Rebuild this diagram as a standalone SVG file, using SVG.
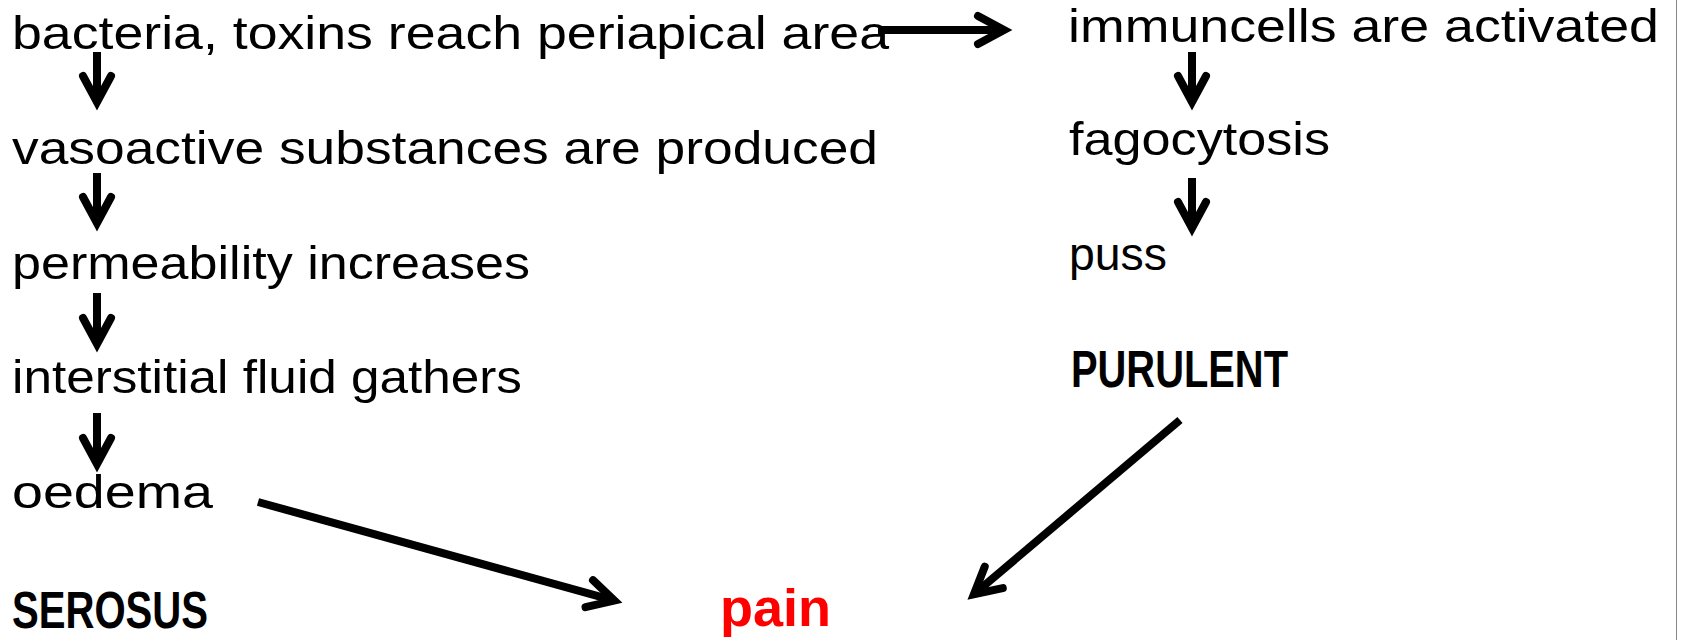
<svg xmlns="http://www.w3.org/2000/svg" width="1681" height="640" viewBox="0 0 1681 640">
<style>
.t{font-family:"Liberation Sans",Arial,sans-serif;font-size:47px;fill:#000}
.b{font-family:"Liberation Sans",Arial,sans-serif;font-size:51px;font-weight:bold;fill:#000}
.red{fill:#ff0000}
.c{stroke:#000;stroke-width:8;fill:none;stroke-linecap:butt}
</style>
<defs>
<marker id="ah" markerUnits="userSpaceOnUse" viewBox="-34 -22 50 44" refX="0" refY="0" markerWidth="50" markerHeight="44" orient="auto" overflow="visible">
<path d="M-26,-14 L0,0 L-26,14" fill="none" stroke="#000" stroke-width="8" stroke-linecap="round" stroke-linejoin="miter" stroke-miterlimit="10"/>
</marker>
</defs>
<rect width="1681" height="640" fill="#fff"/>
<line x1="1676.5" y1="0" x2="1676.5" y2="640" stroke="#888" stroke-width="1"/>
<g id="n1"><text class="t" x="12" y="49" textLength="877" lengthAdjust="spacingAndGlyphs">bacteria, toxins reach periapical area</text></g>
<g id="n2"><text class="t" x="12" y="164" textLength="866" lengthAdjust="spacingAndGlyphs">vasoactive substances are produced</text></g>
<g id="n3"><text class="t" x="12" y="279" textLength="518" lengthAdjust="spacingAndGlyphs">permeability increases</text></g>
<g id="n4"><text class="t" x="12" y="393" textLength="510" lengthAdjust="spacingAndGlyphs">interstitial fluid gathers</text></g>
<g id="n5"><text class="t" x="12" y="508" textLength="201" lengthAdjust="spacingAndGlyphs">oedema</text></g>
<g id="n6"><text class="b" x="12" y="628" textLength="196" lengthAdjust="spacingAndGlyphs">SEROSUS</text></g>
<g id="n7"><text class="b red" x="720" y="626" textLength="111" lengthAdjust="spacingAndGlyphs">pain</text></g>
<g id="n8"><text class="t" x="1068" y="42" textLength="591" lengthAdjust="spacingAndGlyphs">immuncells are activated</text></g>
<g id="n9"><text class="t" x="1069" y="155" textLength="261" lengthAdjust="spacingAndGlyphs">fagocytosis</text></g>
<g id="n10"><text class="t" x="1069" y="270" textLength="98" lengthAdjust="spacingAndGlyphs">puss</text></g>
<g id="n11"><text class="b" x="1071" y="387" textLength="217" lengthAdjust="spacingAndGlyphs">PURULENT</text></g>
<g id="connectors">
<line class="c" x1="97" y1="52" x2="97" y2="102" marker-end="url(#ah)"/>
<line class="c" x1="97" y1="173" x2="97" y2="223" marker-end="url(#ah)"/>
<line class="c" x1="97" y1="293" x2="97" y2="344" marker-end="url(#ah)"/>
<line class="c" x1="97" y1="413" x2="97" y2="464" marker-end="url(#ah)"/>
<line class="c" x1="878" y1="30" x2="1004" y2="30" marker-end="url(#ah)"/>
<line class="c" x1="1192" y1="52" x2="1192" y2="102" marker-end="url(#ah)"/>
<line class="c" x1="1192" y1="178" x2="1192" y2="228" marker-end="url(#ah)"/>
<line class="c" x1="258" y1="502" x2="614.3" y2="600.6" marker-end="url(#ah)"/>
<line class="c" x1="1180" y1="420" x2="973.9" y2="594.2" marker-end="url(#ah)"/>
</g>
</svg>
